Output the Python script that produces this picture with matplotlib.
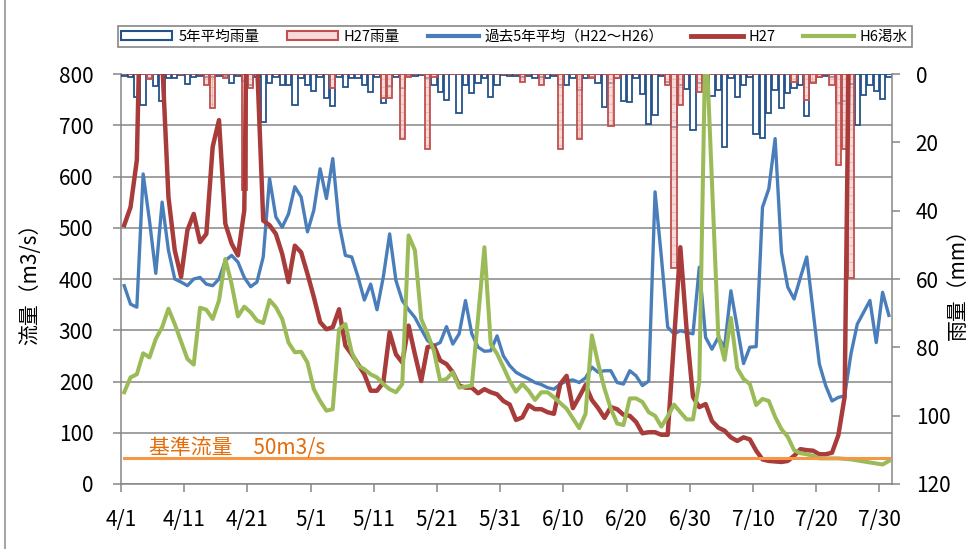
import matplotlib
matplotlib.use('Agg')
import matplotlib.pyplot as plt
import numpy as np
from matplotlib.patches import Patch
from matplotlib.lines import Line2D

plt.rcParams['font.family'] = ['Noto Sans CJK JP', 'DejaVu Sans']
plt.rcParams['hatch.linewidth'] = 0.5

# day 0 = 4/1 ... day 121 = 7/31
tick_days = [0, 10, 20, 30, 40, 50, 60, 70, 80, 90, 100, 110, 120]
tick_labels = ['4/1', '4/11', '4/21', '5/1', '5/11', '5/21', '5/31',
               '6/10', '6/20', '6/30', '7/10', '7/20', '7/30']

# 過去5年平均 (H22~H26) flow, m3/s
flow_avg5 = [387, 351, 345, 605, 514, 411, 550, 456, 400, 394,
             387, 400, 403, 390, 387, 400, 436, 446, 433, 403,
             385, 394, 443, 596, 521, 501, 527, 580, 560, 492,
             534, 615, 557, 635, 508, 446, 443, 404, 359, 390,
             340, 404, 488, 397, 358, 340, 325, 302, 280, 270,
             276, 307, 273, 293, 358, 293, 267, 259, 260, 289,
             250, 231, 218, 211, 205, 198, 194, 188, 185, 195,
             201, 203, 198, 207, 228, 218, 221, 221, 198, 195,
             221, 211, 192, 201, 570, 443, 306, 293, 299, 296,
             293, 423, 286, 263, 286, 267, 377, 306, 235, 267,
             268, 540, 576, 674, 452, 384, 361, 403, 443, 338,
             234, 192, 162, 169, 172, 254, 312, 335, 358, 276,
             374, 329]

# H27 flow (up to 7/25)
flow_h27 = [505, 540, 632, 1200, 1300, 1200, 830, 560, 456, 404,
            495, 527, 472, 488, 658, 710, 508, 469, 446, 534,
            1500, 830, 514, 505, 488, 449, 394, 465, 452, 410,
            365, 316, 302, 306, 341, 270, 253, 234, 214, 182,
            182, 198, 296, 253, 237, 309, 253, 201, 267, 270,
            241, 234, 218, 192, 188, 188, 177, 185, 179, 175,
            162, 155, 125, 130, 154, 146, 146, 140, 137, 195,
            211, 148, 170, 193, 164, 148, 129, 150, 146, 135,
            133, 121, 99, 101, 101, 96, 96, 280, 462, 300,
            170, 150, 156, 123, 110, 104, 91, 84, 91, 87,
            65, 48, 45, 44, 43, 45, 55, 68, 66, 65,
            58, 58, 61, 95, 170, 1200]

# H6 drought flow
flow_h6 = [179, 208, 214, 255, 247, 283, 306, 342, 312, 278,
           244, 233, 344, 340, 322, 358, 439, 390, 327, 346,
           335, 319, 314, 359, 345, 322, 276, 257, 258, 237,
           185, 162, 143, 146, 302, 312, 257, 231, 224, 214,
           208, 195, 185, 179, 195, 485, 456, 322, 293, 260,
           201, 205, 218, 188, 190, 192, 325, 462, 273, 254,
           228, 201, 180, 195, 182, 164, 179, 179, 169, 158,
           147, 128, 109, 137, 290, 235, 186, 147, 118, 115,
           167, 167, 160, 140, 133, 112, 132, 155, 140, 126,
           126, 200, 890, 590, 291, 242, 324, 226, 205, 195,
           154, 166, 162, 131, 107, 92, 66, 60, 58, 55,
           50, 50, 50, 50, 49, 48, 46, 44, 42, 40,
           38, 45]

# 5年平均雨量, mm
rain_avg5 = [0.6, 1.0, 6.6, 9.0, 1.3, 3.5, 7.8, 1.3, 1.3, 0.3,
             2.9, 1.0, 0.5, 1.0, 1.0, 0.5, 0.5, 2.7, 0.5, 2.0,
             3.2, 1.0, 14.0, 2.5, 0.8, 3.2, 3.2, 9.0, 1.3, 3.2,
             5.0, 1.0, 7.1, 9.4, 0.8, 3.7, 1.3, 1.3, 3.2, 5.2,
             0.8, 8.6, 3.5, 1.0, 4.2, 0.5, 0.5, 0.3, 1.3, 3.2,
             5.2, 7.6, 0.1, 11.5, 3.2, 5.7, 2.7, 1.3, 6.6, 3.2,
             0.3, 0.5, 0.5, 1.0, 0.5, 1.3, 1.0, 1.3, 0.5, 3.2,
             3.2, 1.3, 4.7, 1.3, 1.0, 2.7, 9.8, 2.7, 1.3, 7.8,
             8.1, 1.3, 5.9, 14.6, 12.0, 0.5, 2.2, 15.4, 3.2, 4.5,
             16.4, 2.7, 1.3, 6.4, 4.7, 21.3, 1.3, 6.6, 3.2, 1.0,
             17.6, 18.6, 11.3, 4.7, 10.0, 5.5, 4.2, 3.2, 12.3, 2.2,
             0.8, 0.5, 1.0, 8.6, 8.0, 3.0, 14.9, 6.0, 3.2, 5.0,
             7.4, 0.8]

# H27雨量, mm (up to 7/25)
rain_h27 = [0, 0, 0, 0, 1.5, 0, 0, 0, 0, 0,
            0, 0, 0, 3.2, 10.0, 0, 1.3, 0, 0, 34.0,
            4.2, 0, 0, 0, 0, 0, 0, 0, 0, 0,
            0, 0, 0, 4.2, 0, 0, 0, 0, 0, 0,
            0, 7.1, 7.1, 0, 19.0, 0.8, 0, 0, 22.0, 0.8,
            0, 0, 0, 0, 0, 0, 0, 0, 0, 0,
            0, 0, 0, 2.2, 0, 0, 3.2, 0, 0, 22.0,
            0, 0, 19.0, 0, 1.3, 0, 0, 15.2, 1.3, 0,
            0, 0, 0, 0, 0, 0, 3.2, 56.9, 9.0, 0,
            0, 5.2, 0, 0, 0, 0, 0, 0, 0, 0,
            0, 0, 0, 0, 0, 0, 2.2, 0, 7.6, 2.7,
            0.8, 0, 3.2, 26.6, 22.0, 59.8]

base_flow = 50

grid_c = '#868686'
c_avg = '#4A7EBB'
c_h27 = '#A83C3A'
c_h6 = '#9BBB59'
c_base = '#F79646'
c_bar5 = '#24528A'
c_bar27 = '#C0504D'
pink = (0.95, 0.76, 0.76, 0.6)

fig = plt.figure(figsize=(9.73, 5.49), dpi=100)
rect = [0.1244, 0.1184, 0.7924, 0.7468]
ax1 = fig.add_axes(rect)
ax2 = ax1.twinx()
ax3 = ax1.twinx()

n_days = len(flow_avg5)
days = np.arange(n_days) + 0.5
d27 = days[:len(rain_h27)]

# flow axis (left) with grid
ax1.set_xlim(0, n_days)
ax1.set_ylim(0, 800)
ax1.set_yticks(range(0, 801, 100))
ax1.set_xticks(tick_days)
ax1.set_xticklabels(tick_labels)
ax1.grid(axis='y', color=grid_c, lw=1.1)
ax1.set_axisbelow(True)
ax1.tick_params(axis='y', labelsize=15, length=6, width=1.1, color=grid_c, pad=14)
ax1.tick_params(axis='x', labelsize=15, length=6, width=1.1, color=grid_c, pad=12)
for s in ['top', 'right']:
    ax1.spines[s].set_visible(False)
for s in ['left', 'bottom']:
    ax1.spines[s].set_color(grid_c)
    ax1.spines[s].set_linewidth(1.1)
ax1.set_ylabel('流量（m3/s）', fontsize=15)
ax1.yaxis.set_label_coords(-0.103, 0.5)

# rain bars (right axis, inverted)
ax2.bar(days, rain_avg5, width=0.85, color='white', edgecolor=c_bar5, lw=1.3)
ax2.bar(d27, rain_h27, width=0.85, color=pink, edgecolor='#E9A9A8', lw=0, hatch='++')
ax2.bar(d27, rain_h27, width=0.85, color='none', edgecolor=c_bar27, lw=1.3)
ax2.set_ylim(120, 0)
ax2.set_yticks(range(0, 121, 20))
ax2.tick_params(axis='y', labelsize=15, length=6, width=1.1, color=grid_c, pad=11)
for s in ['top', 'left', 'bottom']:
    ax2.spines[s].set_visible(False)
ax2.spines['right'].set_color(grid_c)
ax2.spines['right'].set_linewidth(1.1)
ax2.set_ylabel('雨量（mm）', fontsize=15)
ax2.yaxis.set_label_coords(1.071, 0.5)

# flow lines on top
ax3.plot(days, flow_avg5, color=c_avg, lw=2.4, solid_joinstyle='round')
ax3.plot(days[:len(flow_h27)], flow_h27, color=c_h27, lw=3.2, solid_joinstyle='round')
ax3.plot(days, flow_h6, color=c_h6, lw=2.9, solid_joinstyle='round')
ax3.plot(days, [base_flow] * n_days, color=c_base, lw=2.2)
ax3.set_ylim(0, 800)
ax3.set_yticks([])
for s in ax3.spines.values():
    s.set_visible(False)
ax3.text(4.5, base_flow + 8, '基準流量　50m3/s', color='#E46C0A', fontsize=15, va='baseline')

handles = [Patch(facecolor='white', edgecolor=c_bar5, lw=1.5),
           Patch(facecolor=pink, edgecolor=c_bar27, lw=1.5),
           Line2D([], [], color=c_avg, lw=3),
           Line2D([], [], color=c_h27, lw=3.5),
           Line2D([], [], color=c_h6, lw=3)]
labels = ['5年平均雨量', 'H27雨量', '過去5年平均（H22〜H26）', 'H27', 'H6渇水']
leg = fig.legend(handles, labels, loc='center', bbox_to_anchor=(0.529, 0.9335), ncol=5,
                 fontsize=10.5, handlelength=3.5, handleheight=0.6, handletextpad=0.4,
                 columnspacing=1.9, borderpad=0.25, borderaxespad=0.3, fancybox=False,
                 framealpha=1)
leg.get_frame().set_edgecolor(grid_c)
leg.get_frame().set_linewidth(1.2)

fig.add_artist(Line2D([0.005, 0.005], [0, 1], transform=fig.transFigure, color='#a6a6a6', lw=1.5))

fig.savefig('out.png', dpi=100)
